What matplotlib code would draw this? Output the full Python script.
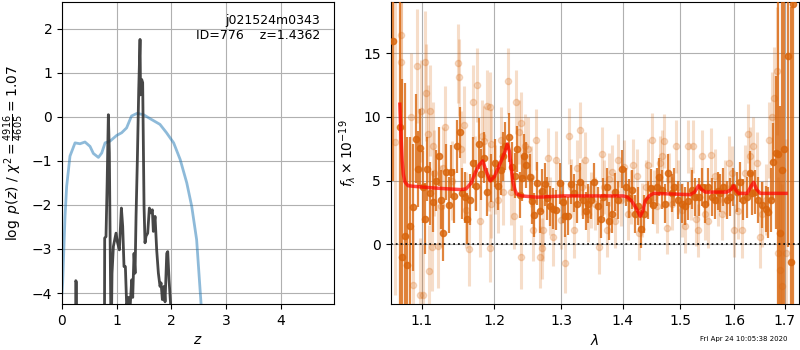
import matplotlib
matplotlib.use('Agg')

import matplotlib.pyplot as plt
import numpy as np

# --- p(z) panel ---
z_chi = [0.0, 0.012, 0.055, 0.085, 0.146, 0.238, 0.329, 0.42, 0.512, 0.573, 0.665, 0.726,
         0.787, 0.878, 1.0, 1.09, 1.18, 1.27, 1.37, 1.49, 1.61, 1.79, 1.91, 2.04, 2.16,
         2.28, 2.37, 2.46, 2.54, 2.6, 4.97]
chi_curve = [-4.0, -3.77, -2.26, -1.58, -0.89, -0.59, -0.61, -0.57, -0.67, -0.83, -0.92, -0.82,
             -0.59, -0.55, -0.42, -0.36, -0.25, 0.02, 0.08, 0.05, -0.04, -0.17, -0.36, -0.59, -0.97,
             -1.5, -2.03, -2.79, -4.23, -6.0, -9.0]

z_pz = [0.0, 0.245, 0.250, 0.252, 0.262, 0.264, 0.27, 0.77, 0.78, 0.804, 0.825, 0.847, 0.865,
        0.89, 0.90, 0.914, 0.939, 0.987, 1.01, 1.048, 1.085, 1.109, 1.133, 1.158, 1.182, 1.213,
        1.243, 1.274, 1.292, 1.316, 1.335, 1.353, 1.377, 1.402, 1.426, 1.435, 1.444, 1.456,
        1.474, 1.499, 1.517, 1.535, 1.566, 1.596, 1.62, 1.651, 1.669, 1.70, 1.73, 1.761, 1.791,
        1.81, 1.834, 1.865, 1.883, 1.914, 1.932, 1.956, 1.987, 2.0, 4.97]
log_pz = [-8, -8, -5, -3.72, -3.75, -5, -8, -8, -2.75, -2.72, -1.5, 0.05, -0.82,
          -4.2, -5, -3.55, -2.94, -2.64, -2.83, -3.02, -2.07, -2.49, -3.4, -3.4, -4.3, -4.1,
          -4.35, -3.7, -4.1, -3.1, -3.55, -2.26, -0.97, 0.62, 1.76, 0.5, 0.7, 0.85,
          0.78, -2.03, -2.86, -2.71, -2.64, -2.07, -2.18, -2.11, -2.6, -2.26, -3.02, -3.55, -3.85,
          -3.77, -4.15, -3.85, -4.2, -3.1, -3.06, -3.7, -4.3, -8, -8]

# --- spectrum panel: combined (dark) ---
wave_d = [1.0632, 1.0713, 1.0747, 1.0777, 1.0812, 1.0847, 1.0886, 1.0929, 1.0951, 1.0982,
          1.1010, 1.1039, 1.1075, 1.1110, 1.1150, 1.1190, 1.1226, 1.1253, 1.1289, 1.1330,
          1.1366, 1.1398, 1.1435, 1.1481, 1.1513, 1.1545, 1.1592, 1.1620, 1.1660, 1.1704,
          1.1740, 1.1784, 1.1815, 1.1850, 1.1902, 1.1950, 1.2007, 1.2050, 1.2093, 1.2130,
          1.2161, 1.2215, 1.2259, 1.2300, 1.2338, 1.2373, 1.2400, 1.2432, 1.2472, 1.2522,
          1.2555, 1.2587, 1.2638, 1.2673, 1.2709, 1.2759, 1.2790, 1.2826, 1.2877, 1.2929,
          1.2981, 1.3028, 1.3070, 1.3112, 1.3154, 1.3207, 1.3244, 1.3297, 1.3350, 1.3390,
          1.3430, 1.3484, 1.3528, 1.3582, 1.3637, 1.3675, 1.3730, 1.3768, 1.3823, 1.3868,
          1.3923, 1.3979, 1.4046, 1.4103, 1.4148, 1.4205, 1.4262, 1.4307, 1.4365, 1.4422,
          1.4480, 1.4521, 1.4579, 1.4620, 1.4679, 1.4726, 1.4785, 1.4844, 1.4892, 1.4951,
          1.5023, 1.5084, 1.5144, 1.5205, 1.5266, 1.5339, 1.5388, 1.5450, 1.5512, 1.5574,
          1.5636, 1.5687, 1.5731, 1.5794, 1.5857, 1.5920, 1.5984, 1.6048, 1.6113, 1.6177,
          1.6242, 1.6307, 1.6353, 1.6405, 1.6471, 1.6537, 1.6617, 1.6670, 1.6724, 1.6771,
          1.6818, 1.6859, 1.6906, 1.6940, 1.6995, 1.7063, 1.7125, 1.7166]
flux_d = [16.0, 9.2, -1.0, 0.65, -1.6, 1.4, 2.9, 8.3, 5.9, 7.6,
          4.5, 2.0, 5.9, 4.0, 3.35, 5.0, 6.9, 3.5, 0.9, 5.7,
          3.1, 5.7, 3.8, 7.7, 8.8, 4.0, 3.7, 2.0, 3.5, 6.4,
          4.6, 7.9, 5.5, 6.8, 4.1, 5.2, 6.4, 4.6, 5.8, 6.9,
          7.7, 8.4, 6.1, 5.4, 7.5, 3.9, 5.2, 6.9, 6.2, 5.3,
          3.4, 2.3, 4.8, 2.6, 4.2, 4.7, 3.6, 3.0, 2.8, 2.7,
          4.8, 3.3, 2.2, 2.2, 4.7, 4.0, 3.2, 4.9, 3.5, 2.6,
          3.2, 3.5, 4.9, 3.0, 2.0, 3.7, 4.5, 1.8, 2.4, 4.1,
          3.5, 5.9, 4.5, 3.6, 4.3, 2.4, 3.0, 1.2, 2.4, 3.5,
          4.4, 3.1, 4.5, 5.3, 4.3, 3.2, 5.6, 4.0, 4.5, 3.5,
          3.2, 3.0, 3.4, 4.3, 3.7, 3.7, 4.5, 3.2, 4.5, 3.7,
          3.5, 4.2, 4.0, 4.5, 3.5, 3.7, 4.5, 4.1, 4.9, 3.5,
          3.7, 5.6, 4.0, 4.1, 3.5, 3.1, 2.8, 2.5, 3.5, 6.5,
          7.2, 7.1, 0.9, 5.8, 7.5, 14.8, -1.4, 18.9]
err_d = [11.0, 16.0, 14.0, 12.0, 10.0, 7.0, 5.0, 3.5, 3.0, 3.0,
         2.8, 2.8, 2.5, 2.5, 2.4, 2.4, 2.3, 2.3, 2.2, 2.2,
         2.2, 2.1, 2.1, 2.1, 2.0, 2.0, 2.0, 2.0, 2.0, 2.0,
         2.0, 2.0, 2.0, 2.0, 1.9, 1.9, 1.9, 1.9, 1.9, 1.9,
         1.9, 1.9, 1.9, 1.8, 1.8, 1.8, 1.8, 1.8, 1.8, 1.8,
         1.8, 1.7, 1.7, 1.7, 1.7, 1.7, 1.7, 1.6, 1.6, 1.6,
         1.6, 1.6, 1.6, 1.5, 1.5, 1.5, 1.5, 1.5, 1.5, 1.5,
         1.5, 1.5, 1.5, 1.5, 1.5, 1.5, 1.5, 1.5, 1.5, 1.5,
         1.5, 1.5, 1.5, 1.5, 1.5, 1.5, 1.5, 1.5, 1.5, 1.5,
         1.5, 1.5, 1.5, 1.5, 1.5, 1.5, 1.5, 1.5, 1.5, 1.5,
         1.5, 1.5, 1.5, 1.5, 1.5, 1.5, 1.5, 1.5, 1.5, 1.5,
         1.5, 1.5, 1.5, 1.5, 1.5, 1.5, 1.5, 1.6, 1.6, 1.6,
         1.6, 1.7, 1.7, 1.7, 1.8, 1.8, 1.8, 2.0, 2.5, 3.0,
         6.0, 12.0, 10.0, 14.0, 14.0, 15.0, 20.0, 25.0]

# --- spectrum panel: individual (light) ---
wave_l = [1.0650, 1.0726, 1.0734, 1.0863, 1.0886, 1.0941, 1.0971, 1.0993, 1.1015, 1.1045,
          1.1062, 1.1088, 1.1101, 1.1115, 1.1136, 1.1144, 1.1166, 1.1218, 1.1253, 1.1280,
          1.1307, 1.1400, 1.1490, 1.1498, 1.1525, 1.1578, 1.1600, 1.1645, 1.1700, 1.1722,
          1.1759, 1.1797, 1.1819, 1.1851, 1.1898, 1.1926, 1.1945, 1.1954, 1.1935, 1.1959,
          1.2007, 1.2055, 1.2103, 1.2128, 1.2200, 1.2250, 1.2289, 1.2323, 1.2358, 1.2388,
          1.2396, 1.2446, 1.2498, 1.2534, 1.2570, 1.2622, 1.2673, 1.2700, 1.2726, 1.2791,
          1.2826, 1.2877, 1.2929, 1.2997, 1.3055, 1.3123, 1.3164, 1.3207, 1.3244, 1.3297,
          1.3334, 1.3376, 1.3430, 1.3484, 1.3539, 1.3604, 1.3648, 1.3691, 1.3730, 1.3774,
          1.3823, 1.3868, 1.3923, 1.3968, 1.4024, 1.4080, 1.4137, 1.4176, 1.4233, 1.4273,
          1.4331, 1.4388, 1.4434, 1.4492, 1.4538, 1.4579, 1.4637, 1.4679, 1.4714, 1.4755,
          1.4797, 1.4844, 1.4916, 1.4963, 1.5023, 1.5084, 1.5144, 1.5193, 1.5235, 1.5278,
          1.5327, 1.5400, 1.5450, 1.5500, 1.5561, 1.5636, 1.5699, 1.5762, 1.5826, 1.5901,
          1.5952, 1.6003, 1.6080, 1.6145, 1.6209, 1.6262, 1.6307, 1.6373, 1.6438, 1.6504,
          1.6551, 1.6617, 1.6684, 1.6737, 1.6792, 1.6839, 1.6873, 1.6906, 1.6954, 1.7022]
flux_l = [8.0, 14.3, 16.4, 10.0, -3.2, 14.0, -4.0, 10.5, -4.0, 14.3,
          11.9, 8.7, -2.1, 10.5, -0.2, 7.7, 5.6, -0.1, 3.0, 6.0,
          9.2, 5.0, 14.2, 13.1, 7.5, 9.4, 2.7, -0.4, 11.2, 5.6,
          12.5, 1.8, 8.5, 8.1, 10.9, 5.3, -0.3, 3.2, 10.8, 7.9,
          5.1, 3.5, 8.2, 4.1, 12.8, 4.1, 2.2, 11.2, 8.8, 9.5,
          -1.0, 7.7, 7.5, 5.3, 1.1, 8.2, -1.0, -0.3, 1.1, 6.8,
          3.0, 0.6, 6.6, 1.9, -1.5, 8.5, 4.5, 1.1, 6.0, 9.0,
          4.5, 6.6, 2.4, 3.5, 3.2, -0.2, 7.1, 4.5, 1.1, 5.1,
          5.7, 1.8, 6.6, 3.5, 6.1, 2.4, 3.7, 6.2, 5.4, 0.9,
          2.7, 4.5, 6.2, 8.2, 3.7, 3.0, 6.4, 6.9, 8.1, 1.3,
          5.1, 3.2, 7.7, 4.5, 2.7, 1.4, 7.7, 4.0, 7.7, 2.0,
          1.1, 6.9, 2.4, 1.8, 7.0, 5.4, 3.5, 2.4, 4.5, 6.4,
          5.6, 1.1, 2.6, 1.1, 5.6, 8.7, 6.9, 7.7, 6.4, 0.6,
          2.4, 3.5, 8.2, 10.0, 11.5, 13.6, -0.7, -2.0, -3.3, -0.7]
err_l = [12.0, 6.0, 6.0, 5.0, 4.5, 4.5, 4.5, 4.0, 4.0, 4.0,
         3.8, 3.8, 3.6, 3.6, 3.5, 3.5, 3.4, 3.3, 3.2, 3.2,
         3.2, 3.1, 3.1, 3.0, 3.0, 3.0, 3.0, 2.9, 2.9, 2.9,
         2.9, 2.8, 2.8, 2.8, 2.8, 2.7, 2.7, 2.7, 2.7, 2.7,
         2.7, 2.6, 2.6, 2.6, 2.6, 2.6, 2.6, 2.5, 2.5, 2.5,
         2.5, 2.5, 2.5, 2.4, 2.4, 2.4, 2.4, 2.4, 2.4, 2.3,
         2.3, 2.3, 2.3, 2.3, 2.3, 2.2, 2.2, 2.2, 2.2, 2.2,
         2.2, 2.2, 2.2, 2.2, 2.1, 2.1, 2.1, 2.1, 2.1, 2.1,
         2.1, 2.1, 2.1, 2.1, 2.1, 2.1, 2.1, 2.1, 2.1, 2.1,
         2.1, 2.1, 2.1, 2.1, 2.1, 2.1, 2.1, 2.1, 2.1, 2.1,
         2.1, 2.1, 2.1, 2.1, 2.1, 2.1, 2.1, 2.1, 2.1, 2.1,
         2.1, 2.1, 2.1, 2.1, 2.1, 2.1, 2.1, 2.1, 2.1, 2.1,
         2.1, 2.1, 2.2, 2.2, 2.2, 2.3, 2.3, 2.3, 2.4, 2.5,
         2.6, 2.8, 3.0, 3.5, 4.0, 5.0, 6.0, 7.0, 8.0, 9.0]

# --- best-fit model ---
wave_m = [1.0714, 1.0730, 1.0745, 1.0760, 1.0780, 1.0820, 1.0900, 1.1000, 1.1218, 1.1520,
          1.1600, 1.1670, 1.1720, 1.1780, 1.1835, 1.1880, 1.1940, 1.2000, 1.2080, 1.2150,
          1.2190, 1.2220, 1.2250, 1.2269, 1.2300, 1.2327, 1.2400, 1.2630, 1.3040, 1.4010,
          1.4080, 1.4150, 1.4230, 1.4296, 1.4340, 1.4380, 1.4450, 1.4526, 1.5180, 1.5260,
          1.5330, 1.5390, 1.5456, 1.5860, 1.5940, 1.5990, 1.6040, 1.6087, 1.6250, 1.6320,
          1.6378, 1.6440, 1.6510, 1.7030]
flux_m = [11.0, 8.5, 6.5, 5.5, 4.9, 4.6, 4.55, 4.5, 4.4, 4.3,
          4.35, 4.8, 5.5, 6.2, 6.55, 5.8, 4.98, 5.3, 6.3, 7.2,
          7.88, 7.3, 5.8, 4.98, 4.3, 3.95, 3.8, 3.7, 3.8, 3.8,
          3.7, 3.4, 2.8, 2.2, 2.6, 3.4, 3.8, 4.0, 3.9, 4.1,
          4.6, 4.3, 4.1, 4.1, 4.3, 4.6, 4.2, 4.0, 4.0, 4.5,
          4.87, 4.3, 4.0, 4.0]

spec_color = '#d9650c'

fig = plt.figure(figsize=(8, 3.5), dpi=100)
ax1 = fig.add_axes([0.0775, 0.1314, 0.34, 0.8629])
ax2 = fig.add_axes([0.4884, 0.1314, 0.5098, 0.8629])

# p(z)
ax1.plot(z_chi, chi_curve, color='tab:blue', alpha=0.5, lw=2)
ax1.plot(z_pz, log_pz, color='0.2', alpha=0.9, lw=2)
ax1.set_xlim(0, 4.97)
ax1.set_ylim(-4.25, 2.61)
ax1.set_xticks([0, 1, 2, 3, 4])
ax1.set_yticks([-4, -3, -2, -1, 0, 1, 2])
ax1.grid()
ax1.set_xlabel('$z$')
ax1.set_ylabel(r'$\log\ p(z)$ / $\chi^2=\frac{4916}{4605}=1.07$')
ax1.text(0.95, 0.96, 'j021524m0343\nID=776    z=1.4362', transform=ax1.transAxes,
         ha='right', va='top', fontsize=9)

# spectrum
ax2.errorbar(wave_l, flux_l, yerr=err_l, marker='o', linestyle='None', color=spec_color,
             alpha=0.22, ms=4.5, elinewidth=2.2, zorder=2)
ax2.errorbar(wave_d, flux_d, yerr=err_d, marker='o', linestyle='None', color=spec_color,
             alpha=0.8, ms=4.5, elinewidth=1.6, zorder=3)
ax2.plot(wave_m, flux_m, color='r', alpha=0.7, lw=2.5, zorder=4)
ax2.axhline(0, color='k', linestyle=':', lw=1.3, alpha=0.9, zorder=5)
ax2.set_xscale('log')
ax2.set_xlim(1.0598, 1.7286)
ax2.set_ylim(-4.69, 19.03)
lam_ticks = [1.1, 1.2, 1.3, 1.4, 1.5, 1.6, 1.7]
ax2.set_xticks(lam_ticks)
ax2.set_xticklabels(['%.1f' % t for t in lam_ticks])
ax2.xaxis.set_minor_locator(matplotlib.ticker.NullLocator())
ax2.set_yticks([0, 5, 10, 15])
ax2.grid()
ax2.set_xlabel(r'$\lambda$')
ax2.set_ylabel(r'$f_\lambda \times 10^{-19}$')

fig.text(0.984, 0.03, 'Fri Apr 24 10:05:38 2020', ha='right', va='center', fontsize=5)

fig.savefig('out.png', dpi=100)
